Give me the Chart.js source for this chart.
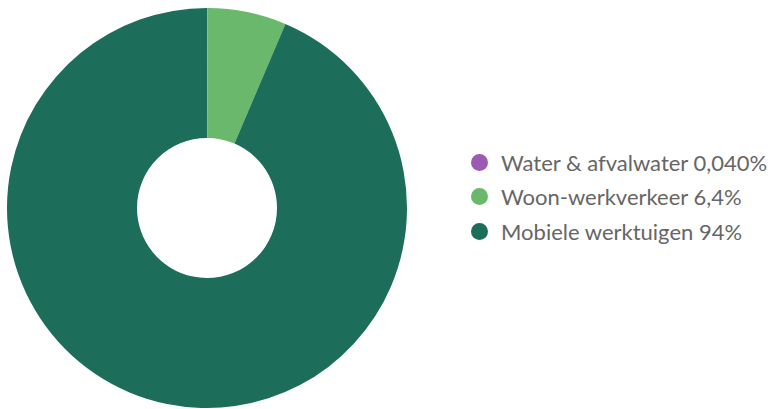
<!DOCTYPE html>
<html>
<head>
<meta charset="utf-8">
<script src="https://cdn.jsdelivr.net/npm/chart.js@4/dist/chart.umd.min.js"></script>
<style>
  body { margin: 0; background: #fff; width: 779px; height: 409px; overflow: hidden; font-family: Lato, "Open Sans", sans-serif; }
  #wrap { position: absolute; left: 0; top: 8px; width: 414px; height: 400px; }
  #legend { position: absolute; left: 471px; top: 145px; list-style: none; margin: 0; padding: 0; }
  #legend li { display: flex; align-items: center; height: 34.5px; font-size: 22px; color: #666; }
  #legend span.dot { display: inline-block; width: 17px; height: 17px; border-radius: 50%; margin-right: 13px; }
</style>
</head>
<body>
<div id="wrap"><canvas id="myChart"></canvas></div>
<ul id="legend"></ul>
<script>
// Data
const categories = ['Water & afvalwater', 'Woon-werkverkeer', 'Mobiele werktuigen'];
const values = [0.040, 6.4, 94];
const valueLabels = ['0,040%', '6,4%', '94%'];
const colors = ['#9b5bb3', '#69b86b', '#1c6d5a'];

const legend = document.getElementById('legend');
categories.forEach((name, i) => {
    const li = document.createElement('li');
    const dot = document.createElement('span');
    dot.className = 'dot';
    dot.style.background = colors[i];
    li.appendChild(dot);
    li.appendChild(document.createTextNode(name + ' ' + valueLabels[i]));
    legend.appendChild(li);
});

new Chart(document.getElementById('myChart'), {
    type: 'doughnut',
    data: {
        labels: categories,
        datasets: [{
            data: values,
            backgroundColor: colors,
            borderWidth: 0
        }]
    },
    options: {
        responsive: true,
        maintainAspectRatio: false,
        animation: false,
        cutout: '35%',
        plugins: {
            legend: { display: false },
            tooltip: { enabled: false }
        }
    }
});
</script>
</body>
</html>
